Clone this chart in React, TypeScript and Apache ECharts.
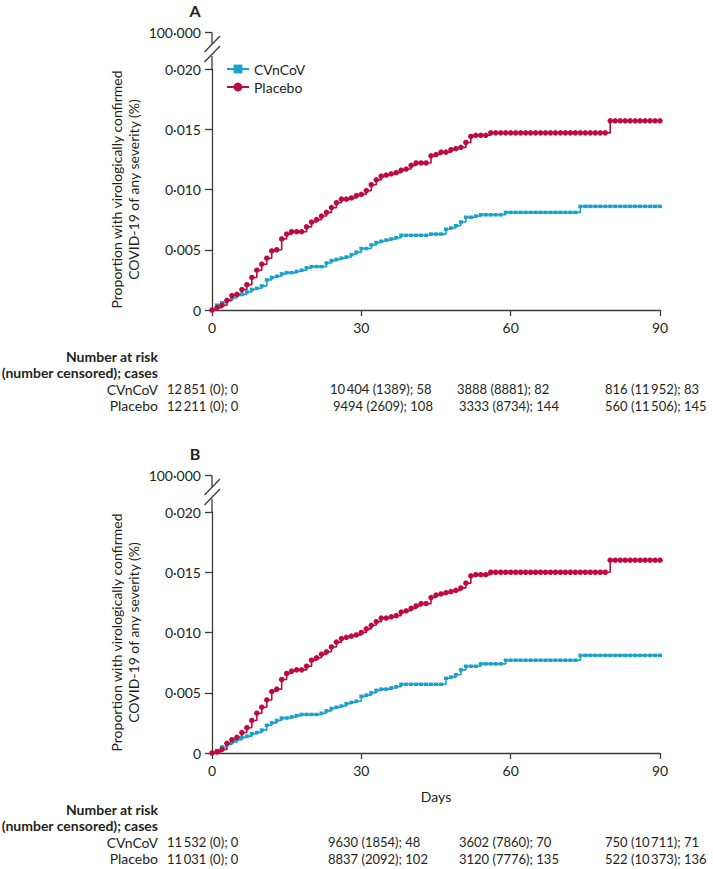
import React, { useEffect, useRef } from "react";
import * as echarts from "echarts";

// ---------- data ----------
const seriesNames = ["CVnCoV", "Placebo"];
const panelLetters = ["A", "B"];
const xTickValues = [0, 30, 60, 90];
const yTickValues = [0, 0.005, 0.01, 0.015, 0.02];
const yBreakLabel = "100·000";
const yAxisTitle = "Proportion with virologically confirmed\nCOVID-19 of any severity (%)";
const xAxisTitle = "Days";
const riskHeader = ["Number at risk", "(number censored); cases"];

// Cumulative proportion (%) read per day 0..90
const cvA = [
  0, 0.0004, 0.0006, 0.0008, 0.001, 0.0012, 0.0013, 0.0015, 0.0017, 0.0018,
  0.002, 0.0025, 0.0027, 0.0028, 0.003, 0.0031, 0.0031, 0.0032, 0.0033, 0.0035,
  0.0036, 0.0036, 0.0036, 0.0039, 0.0041, 0.0042, 0.0043, 0.0044, 0.0046, 0.0048,
  0.0051, 0.0051, 0.0054, 0.0056, 0.0057, 0.0058, 0.0059, 0.006, 0.0062, 0.0062,
  0.0062, 0.0062, 0.0062, 0.0062, 0.0063, 0.0063, 0.0063, 0.0067, 0.0068, 0.007,
  0.0073, 0.0077, 0.0077, 0.0078, 0.0079, 0.0079, 0.0079, 0.0079, 0.0079, 0.0081,
  0.0081, 0.0081, 0.0081, 0.0081, 0.0081, 0.0081, 0.0081, 0.0081, 0.0081, 0.0081,
  0.0081, 0.0081, 0.0081, 0.0081, 0.0086, 0.0086, 0.0086, 0.0086, 0.0086, 0.0086,
  0.0086, 0.0086, 0.0086, 0.0086, 0.0086, 0.0086, 0.0086, 0.0086, 0.0086, 0.0086,
  0.0086,
];
const plA = [
  0, 0.0002, 0.0004, 0.0008, 0.0012, 0.0013, 0.0017, 0.0021, 0.0027, 0.0033,
  0.0038, 0.0043, 0.0049, 0.005, 0.0059, 0.0063, 0.0065, 0.0065, 0.0065, 0.0069,
  0.0073, 0.0075, 0.0078, 0.0081, 0.0085, 0.0089, 0.0092, 0.0092, 0.0093, 0.0095,
  0.0096, 0.0099, 0.0104, 0.0108, 0.0111, 0.0112, 0.0113, 0.0114, 0.0116, 0.0117,
  0.012, 0.0122, 0.0122, 0.0122, 0.0128, 0.0129, 0.0131, 0.0131, 0.0133, 0.0134,
  0.0135, 0.0139, 0.0144, 0.0145, 0.0145, 0.0145, 0.0147, 0.0147, 0.0147, 0.0147,
  0.0147, 0.0147, 0.0147, 0.0147, 0.0147, 0.0147, 0.0147, 0.0147, 0.0147, 0.0147,
  0.0147, 0.0147, 0.0147, 0.0147, 0.0147, 0.0147, 0.0147, 0.0147, 0.0147, 0.0147,
  0.0157, 0.0157, 0.0157, 0.0157, 0.0157, 0.0157, 0.0157, 0.0157, 0.0157, 0.0157,
  0.0157,
];
const cvB = [
  0, 0.0002, 0.0005, 0.0007, 0.0009, 0.0011, 0.0013, 0.0014, 0.0016, 0.0017,
  0.0019, 0.0023, 0.0025, 0.0027, 0.0029, 0.0029, 0.003, 0.0031, 0.0032, 0.0032,
  0.0032, 0.0032, 0.0033, 0.0035, 0.0037, 0.0038, 0.0039, 0.0041, 0.0042, 0.0043,
  0.0047, 0.0048, 0.005, 0.0052, 0.0053, 0.0053, 0.0054, 0.0055, 0.0057, 0.0057,
  0.0057, 0.0057, 0.0057, 0.0057, 0.0057, 0.0057, 0.0057, 0.0062, 0.0063, 0.0065,
  0.0069, 0.0072, 0.0072, 0.0072, 0.0074, 0.0074, 0.0074, 0.0074, 0.0074, 0.0077,
  0.0077, 0.0077, 0.0077, 0.0077, 0.0077, 0.0077, 0.0077, 0.0077, 0.0077, 0.0077,
  0.0077, 0.0077, 0.0077, 0.0077, 0.0081, 0.0081, 0.0081, 0.0081, 0.0081, 0.0081,
  0.0081, 0.0081, 0.0081, 0.0081, 0.0081, 0.0081, 0.0081, 0.0081, 0.0081, 0.0081,
  0.0081,
];
const plB = [
  0, 0.0001, 0.0003, 0.0008, 0.0011, 0.0013, 0.0017, 0.0021, 0.0027, 0.0033,
  0.0038, 0.0044, 0.0051, 0.0053, 0.0061, 0.0066, 0.0068, 0.0069, 0.0069, 0.0072,
  0.0077, 0.0079, 0.0082, 0.0084, 0.0088, 0.0092, 0.0095, 0.0096, 0.0097, 0.0098,
  0.01, 0.0103, 0.0106, 0.0109, 0.0112, 0.0112, 0.0113, 0.0114, 0.0117, 0.0118,
  0.012, 0.0122, 0.0124, 0.0124, 0.0129, 0.0131, 0.0132, 0.0133, 0.0134, 0.0135,
  0.0137, 0.0141, 0.0147, 0.0148, 0.0148, 0.0148, 0.015, 0.015, 0.015, 0.015,
  0.015, 0.015, 0.015, 0.015, 0.015, 0.015, 0.015, 0.015, 0.015, 0.015,
  0.015, 0.015, 0.015, 0.015, 0.015, 0.015, 0.015, 0.015, 0.015, 0.015,
  0.016, 0.016, 0.016, 0.016, 0.016, 0.016, 0.016, 0.016, 0.016, 0.016,
  0.016,
];

// Number at risk tables (at days 0, 30, 60, 90)
const riskA_cv_atRisk = [12851, 10404, 3888, 816];
const riskA_cv_censored = [0, 1389, 8881, 11952];
const riskA_cv_cases = [0, 58, 82, 83];
const riskA_pl_atRisk = [12211, 9494, 3333, 560];
const riskA_pl_censored = [0, 2609, 8734, 11506];
const riskA_pl_cases = [0, 108, 144, 145];
const riskB_cv_atRisk = [11532, 9630, 3602, 750];
const riskB_cv_censored = [0, 1854, 7860, 10711];
const riskB_cv_cases = [0, 48, 70, 71];
const riskB_pl_atRisk = [11031, 8837, 3120, 522];
const riskB_pl_censored = [0, 2092, 7776, 10373];
const riskB_pl_cases = [0, 102, 135, 136];

// ---------- style / layout ----------
const FONT = "Lato";
const INK = "#231f20";
const AXIS = "#3b3b3b";
const CYAN = "#1aa1c9";
const RED = "#bf0a3f";
const GRID_LEFT = 212;
const GRID_W = 448;
const GRID_H = 241;
const PANEL_TOPS = [69, 512];
const RISK_TOPS = [356, 809];
const RISK_ROW = 16.5;
const COLS = [
  [[167, 330, 457, 605], [167, 333, 459, 605]],
  [[167, 328, 459, 605], [167, 328, 459, 605]],
];

const fmtNum = (n: number) => {
  const s = String(n);
  return n >= 10000 ? s.slice(0, s.length - 3) + "\u2009" + s.slice(-3) : s;
};
const riskText = (a: number[], c: number[], k: number[], i: number) =>
  `${fmtNum(a[i])} (${fmtNum(c[i])}); ${k[i]}`;

export default function App() {
  const ref = useRef<HTMLDivElement>(null);
  useEffect(() => {
    if (!ref.current) return;
    const chart = echarts.init(ref.current, null, { renderer: "svg" });

    const panels = [
      { cv: cvA, pl: plA, risk: [[riskA_cv_atRisk, riskA_cv_censored, riskA_cv_cases], [riskA_pl_atRisk, riskA_pl_censored, riskA_pl_cases]] },
      { cv: cvB, pl: plB, risk: [[riskB_cv_atRisk, riskB_cv_censored, riskB_cv_cases], [riskB_pl_atRisk, riskB_pl_censored, riskB_pl_cases]] },
    ];

    const graphics: any[] = [];
    const txt = (x: number, y: number, text: string, opts: any = {}) =>
      graphics.push({
        type: "text",
        x,
        y,
        silent: true,
        style: {
          text,
          fill: INK,
          fontFamily: FONT,
          fontSize: 14,
          align: "left",
          verticalAlign: "middle",
          ...opts,
        },
      });
    const ln = (x1: number, y1: number, x2: number, y2: number) =>
      graphics.push({
        type: "line",
        silent: true,
        shape: { x1, y1, x2, y2 },
        style: { stroke: AXIS, lineWidth: 1.3 },
      });

    PANEL_TOPS.forEach((T, p) => {
      // panel letter
      txt(195, T - 59, panelLetters[p], { fontSize: 16, fontWeight: "bold", align: "center" });
      // axis break
      ln(205, T - 36.5, GRID_LEFT, T - 36.5);
      ln(GRID_LEFT, T - 36.5, GRID_LEFT, T - 25);
      ln(GRID_LEFT, T - 13, GRID_LEFT, T);
      ln(204.5, T - 17, 220, T - 33);
      ln(204.5, T - 7, 220, T - 23);
      txt(201, T - 36.5, yBreakLabel, { align: "right" });
      // risk table
      const R = RISK_TOPS[p];
      txt(158, R, riskHeader[0], { align: "right", fontWeight: "bold" });
      txt(158, R + RISK_ROW, riskHeader[1], { align: "right", fontWeight: "bold" });
      seriesNames.forEach((nm, s) => {
        const y = R + RISK_ROW * (2 + s);
        txt(158, y, nm, { align: "right" });
        const [a, c, k] = panels[p].risk[s];
        for (let i = 0; i < a.length; i++) {
          txt(COLS[p][s][i], y, riskText(a, c, k, i), { fontSize: 13 });
        }
      });
    });

    const yLabel = (v: number) => (v === 0 ? "0" : v.toFixed(3).replace(".", "·"));

    const grids = PANEL_TOPS.map((T) => ({
      left: GRID_LEFT,
      top: T,
      width: GRID_W,
      height: GRID_H,
      containLabel: false,
    }));

    const xAxes = PANEL_TOPS.map((_, p) => ({
      type: "value",
      gridIndex: p,
      min: xTickValues[0],
      max: xTickValues[xTickValues.length - 1],
      interval: 30,
      name: p === 1 ? xAxisTitle : "",
      nameLocation: "middle",
      nameGap: 36,
      nameTextStyle: { fontFamily: FONT, fontSize: 14, color: INK },
      axisLine: { lineStyle: { color: AXIS, width: 1.3 } },
      axisTick: { length: 6, lineStyle: { color: AXIS, width: 1.3 } },
      axisLabel: { fontFamily: FONT, fontSize: 14, color: INK, margin: 10 },
      splitLine: { show: false },
    }));

    const yAxes = PANEL_TOPS.map((_, p) => ({
      type: "value",
      gridIndex: p,
      min: yTickValues[0],
      max: yTickValues[yTickValues.length - 1],
      interval: 0.005,
      name: yAxisTitle,
      nameLocation: "middle",
      nameRotate: 90,
      nameGap: 70,
      nameTextStyle: { fontFamily: FONT, fontSize: 14, color: INK, lineHeight: 17 },
      axisLine: { show: true, lineStyle: { color: AXIS, width: 1.3 } },
      axisTick: { show: true, length: 7, lineStyle: { color: AXIS, width: 1.3 } },
      axisLabel: { fontFamily: FONT, fontSize: 14, color: INK, margin: 11, formatter: yLabel },
      splitLine: { show: false },
    }));

    const mk = (name: string, vals: number[], p: number, color: string, symbol: string, size: any) => ({
      type: "line",
      name,
      xAxisIndex: p,
      yAxisIndex: p,
      step: "end",
      data: vals.map((v, d) => [d, v]),
      showSymbol: true,
      showAllSymbol: true,
      symbol,
      symbolSize: size,
      itemStyle: { color },
      lineStyle: { color, width: 1.6 },
      emphasis: { disabled: true },
      silent: true,
    });

    const series: any[] = [];
    panels.forEach((pn, p) => {
      series.push(mk(seriesNames[0], pn.cv, p, CYAN, "rect", [4, 3.5]));
      series.push(mk(seriesNames[1], pn.pl, p, RED, "circle", 5.5));
    });

    chart.setOption({
      animation: false,
      backgroundColor: "#ffffff",
      textStyle: { fontFamily: FONT },
      grid: grids,
      xAxis: xAxes,
      yAxis: yAxes,
      legend: {
        data: seriesNames,
        orient: "vertical",
        left: 221,
        top: 57,
        itemWidth: 22,
        itemHeight: 11,
        itemGap: 4,
        selectedMode: false,
        textStyle: { fontFamily: FONT, fontSize: 14, color: INK },
      },
      series,
      graphic: graphics,
    });

    return () => chart.dispose();
  }, []);

  return (
    <div
      ref={ref}
      style={{ position: "absolute", left: 0, top: 0, width: 713, height: 869, background: "#fff" }}
    />
  );
}
